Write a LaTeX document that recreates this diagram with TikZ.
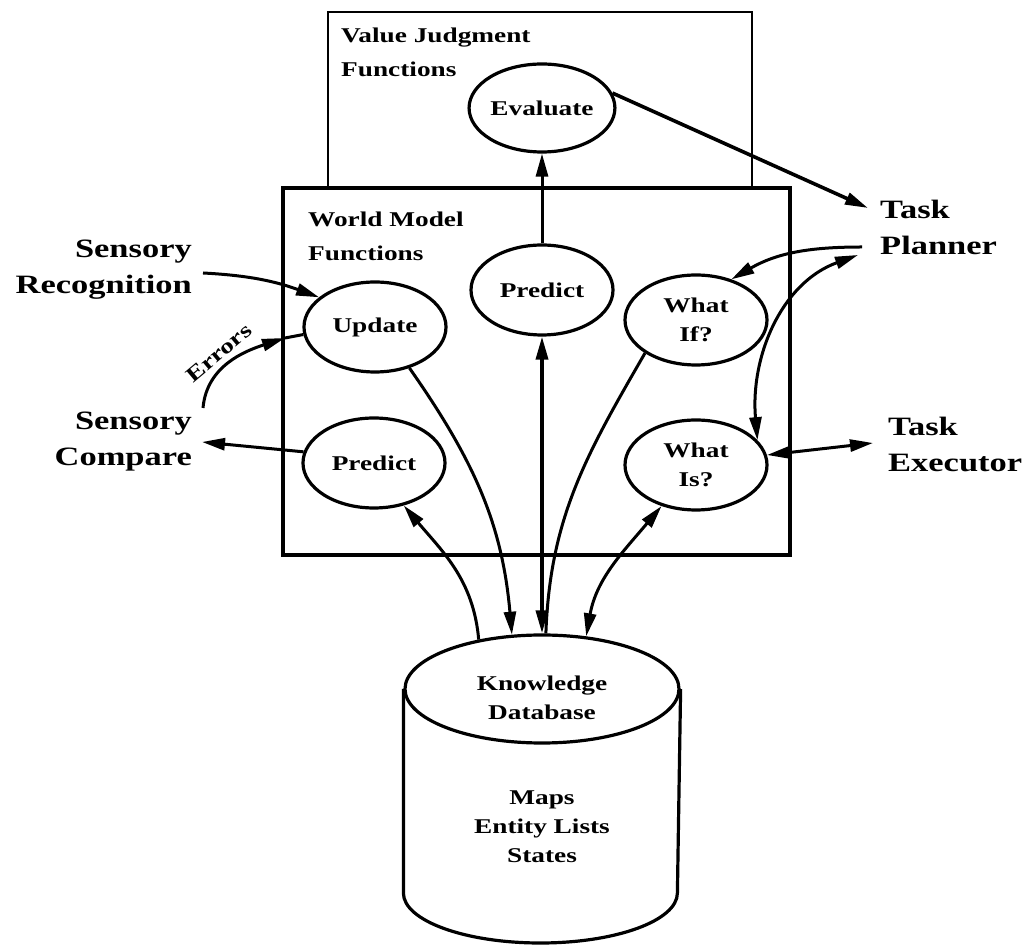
\documentclass[tikz,border=0pt]{standalone}
\usepackage{fontspec}
\newfontfamily\labfont{Liberation Serif}[FakeStretch=1.3]
\usetikzlibrary{shapes.geometric,arrows.meta}
\newcommand\fBig{\labfont\bfseries\fontsize{26.5}{36}\selectfont}
\newcommand\fSmall{\labfont\bfseries\fontsize{21}{29}\selectfont}
\newcommand\fTitle{\labfont\bfseries\fontsize{21}{34}\selectfont}
\begin{document}
\begin{tikzpicture}[x=1pt,y=1pt,
  tip/.tip={Triangle[length=23pt,width=12pt]},
  arr/.style={line width=3pt,-tip},
  darr/.style={line width=3pt,tip-tip},
  plain/.style={line width=3pt},
  fn/.style={ellipse,draw,line width=3.2pt,minimum width=142,minimum height=90,inner sep=0pt,align=center,font=\fSmall},
  biglab/.style={inner sep=0pt,font=\fBig},
  title/.style={inner sep=0pt,font=\fTitle,align=left,anchor=north west},
  dbtext/.style={inner sep=0pt,font=\fSmall,align=center}]
\useasboundingbox (0,0) rectangle (1025,945);

% boxes
\draw[line width=2.6pt] (328,758) rectangle (752,933);
\draw[line width=3.4pt] (283,390) rectangle (790,757);

\node[title] (vjt) at (341,917) {Value Judgment\\Functions};
\node[title] (wmt) at (308,733) {World Model\\Functions};

% function ellipses
\node[fn,minimum width=140,minimum height=88] (eval) at (542,837) {Evaluate};
\node[fn] (predT) at (542,655) {Predict};
\node[fn] (upd) at (375,618) {Update};
\node[fn] (predL) at (374,482) {Predict};
\node[fn] (wif) at (696,625) {What\\If?};
\node[fn] (wis) at (696,480) {What\\Is?};

% database cylinder
\node[ellipse,draw,line width=3.2pt,minimum width=274,minimum height=108,inner sep=0pt] (db) at (542,256) {};
\draw[line width=3.2pt] (db.west) -- ++(0,-204) arc[start angle=180,end angle=360,x radius=137,y radius=50] -- (db.east);
\node[dbtext] (dbt) at (542,247) {Knowledge\\Database};
\node[dbtext] (dbc) at (542,118) {Maps\\Entity Lists\\States};

% outside labels
\node[biglab,anchor=east,align=right] (srec) at (192,675) {Sensory\\Recognition};
\node[biglab,anchor=east,align=right] (scmp) at (192,503) {Sensory\\Compare};
\node[biglab,anchor=west,align=left] (tpl) at (880,718) {Task\\Planner};
\node[biglab,anchor=west,align=left] (tex) at (888,501) {Task\\Executor};
\node[inner sep=0pt,font=\fSmall,rotate=40] (err) at (219,592) {Errors};

% free ends
\coordinate (srOut) at (203,672);
\coordinate (errStart) at (203,537);
\coordinate (errJoin) at (285,607);
\coordinate (scIn) at (202,503);
\coordinate (tpIn) at (868,737);
\coordinate (tpOut) at (862,698);
\coordinate (tpIO) at (858,690);
\coordinate (teIO) at (873,502);

% connectors
\draw[arr] (predT) -- (eval);
\draw[arr,line width=3.6pt] (eval.12) -- (tpIn);
\draw[arr] (srOut) to[out=-3,in=160] (upd.152);
\draw[plain] (errJoin) -- (upd.186);
\draw[arr] (errStart) to[out=85,in=198] (errJoin);
\draw[arr] (predL.171) -- (scIn);
\draw[arr] (upd.310) to[out=-55,in=95] (db.119);
\draw[arr] (db.142) to[out=95,in=-50] (predL.305);
\draw[darr,line width=3.6pt] (predT.south) -- (db.north);
\draw[plain] (wif.213) to[out=240,in=88] (db.86);
\draw[darr] (wis.230) to[out=230,in=80] (db.50);
\draw[arr] (tpOut) to[out=180,in=30] (wif.49);
\draw[darr] (wis.22) to[out=95,in=200] (tpIO);
\draw[darr] (wis.8) -- (teIO);
\end{tikzpicture}
\end{document}
